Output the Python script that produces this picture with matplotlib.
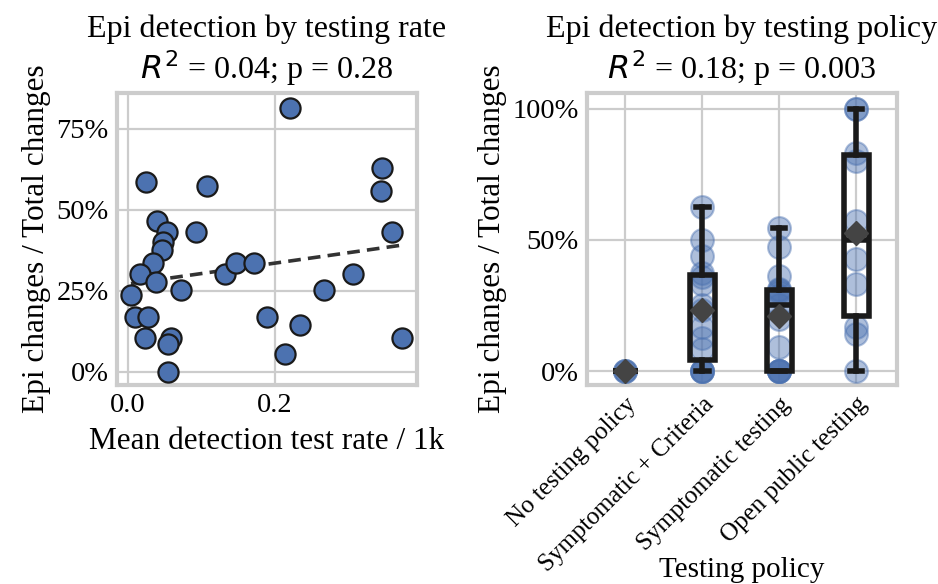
import numpy as np
import matplotlib
matplotlib.use("Agg")
import matplotlib.pyplot as plt
from matplotlib.ticker import PercentFormatter

plt.rcParams['font.family'] = ['Liberation Serif', 'DejaVu Sans']
plt.rcParams['mathtext.fontset'] = 'dejavusans'

BLUE = '#4C72B0'
GRID = '#cccccc'

# mean detection test rate per 1k vs share of epi-driven changes
test_rate = [0.221, 0.024, 0.108, 0.346, 0.344, 0.359, 0.040, 0.053, 0.093, 0.048,
             0.046, 0.034, 0.016, 0.038, 0.132, 0.147, 0.171, 0.306, 0.004, 0.072,
             0.266, 0.010, 0.027, 0.189, 0.234, 0.023, 0.058, 0.055, 0.372, 0.213,
             0.055]
epi_share = [0.814, 0.585, 0.574, 0.628, 0.558, 0.431, 0.464, 0.431, 0.431, 0.402,
             0.377, 0.335, 0.302, 0.276, 0.302, 0.335, 0.335, 0.302, 0.238, 0.253,
             0.253, 0.169, 0.169, 0.169, 0.145, 0.104, 0.104, 0.085, 0.104, 0.055,
             0.0]

# share of epi-driven changes grouped by testing policy
policies = ['No testing policy', 'Symptomatic + Criteria',
            'Symptomatic testing', 'Open public testing']
no_policy = [0.0, 0.0, 0.0]
symptomatic_criteria = [0.0, 0.0, 0.0, 0.0, 0.083, 0.125, 0.167, 0.231, 0.25,
                        0.333, 0.357, 0.375, 0.4375, 0.50, 0.625]
symptomatic = [0.0, 0.0, 0.0, 0.0, 0.0, 0.091, 0.20, 0.25, 0.286, 0.30, 0.308,
               0.313, 0.364, 0.471, 0.545]
open_public = [0.0, 0.143, 0.167, 0.333, 0.429, 0.571, 0.80, 0.833, 1.0, 1.0]
groups = [no_policy, symptomatic_criteria, symptomatic, open_public]

fig = plt.figure(figsize=(9.38, 5.84), dpi=100)
ax1 = fig.add_axes([0.1247, 0.3408, 0.3198, 0.5])
ax2 = fig.add_axes([0.6258, 0.3408, 0.3305, 0.5])

for ax in (ax1, ax2):
    ax.set_axisbelow(True)
    ax.grid(True, color=GRID, linewidth=1.6)
    for sp in ax.spines.values():
        sp.set_color(GRID)
        sp.set_linewidth(3)
    ax.tick_params(length=0, labelsize=20.5, pad=6)
    ax.yaxis.set_major_formatter(PercentFormatter(1.0, decimals=0))

# left: scatter + linear fit
x = np.array(test_rate)
y = np.array(epi_share)
slope, icpt = np.polyfit(x, y, 1)
xs = np.array([x.min(), x.max()])
ax1.plot(xs, slope * xs + icpt, ls=(0, (3.5, 2)), color='#333333', lw=2.6, zorder=2)
ax1.scatter(x, y, s=210, color=BLUE, edgecolor='#1a1a1a', linewidth=1.6, zorder=3)
ax1.set_xlim(-0.015, 0.393)
ax1.set_ylim(-0.04, 0.86)
ax1.set_xticks([0.0, 0.2])
ax1.set_xticklabels(['0.0', '0.2'])
ax1.set_yticks([0, 0.25, 0.5, 0.75])
ax1.set_xlabel('Mean detection test rate / 1k', fontsize=22.5, labelpad=6)
ax1.set_ylabel('Epi changes / Total changes', fontsize=22.5, labelpad=4)
ax1.set_title('Epi detection by testing rate\n$R^2$ = 0.04; p = 0.28', fontsize=23,
              pad=10, linespacing=1.15)

# right: boxes + strip points per policy
pos = np.arange(len(policies))
ax2.boxplot(groups, positions=pos, widths=0.32, whis=(0, 100), showmeans=True,
            patch_artist=True, manage_ticks=False,
            boxprops=dict(facecolor='none', edgecolor='#1a1a1a', linewidth=4),
            whiskerprops=dict(color='#1a1a1a', linewidth=4),
            capprops=dict(color='#1a1a1a', linewidth=4),
            medianprops=dict(color='#1a1a1a', linewidth=4),
            meanprops=dict(marker='D', markerfacecolor='#444444',
                           markeredgecolor='#444444', markersize=12),
            showfliers=False, zorder=4)
for i, g in enumerate(groups):
    ax2.scatter(np.full(len(g), pos[i]), g, s=270, color=BLUE, alpha=0.45,
                edgecolor=BLUE, linewidth=1.5, zorder=3)
ax2.set_xlim(-0.5, 3.53)
ax2.set_ylim(-0.053, 1.06)
ax2.set_xticks(pos)
ax2.set_xticklabels(policies, rotation=45, ha='right', rotation_mode='anchor',
                    fontsize=18)
ax2.set_yticks([0, 0.5, 1.0])
ax2.set_xlabel('Testing policy', fontsize=21)
ax2.xaxis.set_label_coords(0.5, -0.59)
ax2.set_ylabel('Epi changes / Total changes', fontsize=22.5, labelpad=4)
ax2.set_title('Epi detection by testing policy\n$R^2$ = 0.18; p = 0.003', fontsize=23,
              pad=10, linespacing=1.15)

fig.savefig('out.png', dpi=100)
